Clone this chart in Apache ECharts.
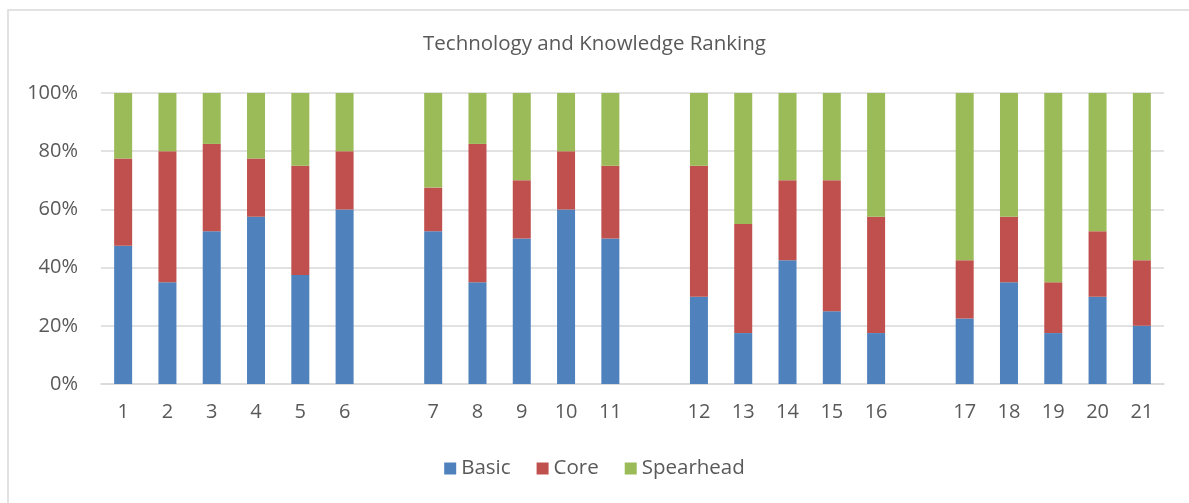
<!DOCTYPE html>
<html>
<head>
<meta charset="utf-8">
<title>Technology and Knowledge Ranking</title>
<script src="https://cdn.jsdelivr.net/npm/echarts@6/dist/echarts.min.js"></script>
<style>
  html, body { margin: 0; padding: 0; background: #fff; }
  #chart { width: 1189px; height: 503px; }
</style>
</head>
<body>
<div id="chart"></div>
<script>
// items 1..21, gaps drawn after 6, 11 and 16
const items = ['1','2','3','4','5','6','7','8','9','10','11','12','13','14','15','16','17','18','19','20','21']
const gapAfter = ['6', '11', '16']

// percentages
const basic     = [47.5, 35, 52.5, 57.5, 37.5, 60, 52.5, 35, 50, 60, 50, 30, 17.5, 42.5, 25, 17.5, 22.5, 35, 17.5, 30, 20]
const core      = [30, 45, 30, 20, 37.5, 20, 15, 47.5, 20, 20, 25, 45, 37.5, 27.5, 45, 40, 20, 22.5, 17.5, 22.5, 22.5]
const spearhead = [22.5, 20, 17.5, 22.5, 25, 20, 32.5, 17.5, 30, 20, 25, 25, 45, 30, 30, 42.5, 57.5, 42.5, 65, 47.5, 57.5]

const yTicks = [0, 20, 40, 60, 80, 100]

// insert an empty slot after each group
const categories = []
const withGaps = arr => {
    let out = []
    items.forEach((it, i) => {
        out.push(arr[i])
        if (gapAfter.includes(it)) out.push(null)
    })
    return out
}
items.forEach(it => {
    categories.push(it)
    if (gapAfter.includes(it)) categories.push('')
})

const font = 'Open Sans'
const textColor = '#595959'
const lineColor = '#d9d9d9'

let myChart = echarts.init(document.getElementById('chart'))

let option = {
    animation: false,
    textStyle: { fontFamily: font },
    color: ['#4f81bd', '#c0504d', '#9bbb59'],
    graphic: [{
        type: 'rect',
        shape: { x: 8, y: 10, width: 1300, height: 600 },
        style: { fill: 'none', stroke: lineColor, lineWidth: 1.5 },
        silent: true
    }],
    title: {
        text: 'Technology and Knowledge Ranking',
        left: 'center',
        top: 34,
        padding: 0,
        textStyle: { fontFamily: font, fontSize: 20.5, fontWeight: 'normal', color: textColor }
    },
    legend: {
        top: 458,
        left: 'center',
        padding: 0,
        itemWidth: 12,
        itemHeight: 12,
        itemGap: 26,
        icon: 'rect',
        textStyle: { fontFamily: font, fontSize: 20.5, color: textColor },
        data: ['Basic', 'Core', 'Spearhead']
    },
    grid: {
        left: 101,
        right: 25,
        top: 93,
        bottom: 119,
        containLabel: false
    },
    xAxis: {
        type: 'category',
        data: categories,
        axisTick: { show: false },
        axisLine: { lineStyle: { color: lineColor, width: 1.5 } },
        axisLabel: { interval: 0, margin: 18, fontFamily: font, fontSize: 20, color: textColor }
    },
    yAxis: {
        type: 'value',
        min: yTicks[0],
        max: yTicks[yTicks.length - 1],
        interval: yTicks[1] - yTicks[0],
        axisLine: { show: false },
        axisTick: { show: false },
        splitLine: { lineStyle: { color: lineColor, width: 1.5 } },
        axisLabel: { margin: 23, fontFamily: font, fontSize: 20, color: textColor, formatter: '{value}%' }
    },
    series: [
        { name: 'Basic', type: 'bar', stack: 'total', barWidth: 18, data: withGaps(basic) },
        { name: 'Core', type: 'bar', stack: 'total', barWidth: 18, data: withGaps(core) },
        { name: 'Spearhead', type: 'bar', stack: 'total', barWidth: 18, data: withGaps(spearhead) }
    ]
}

option && myChart.setOption(option)
</script>
</body>
</html>
